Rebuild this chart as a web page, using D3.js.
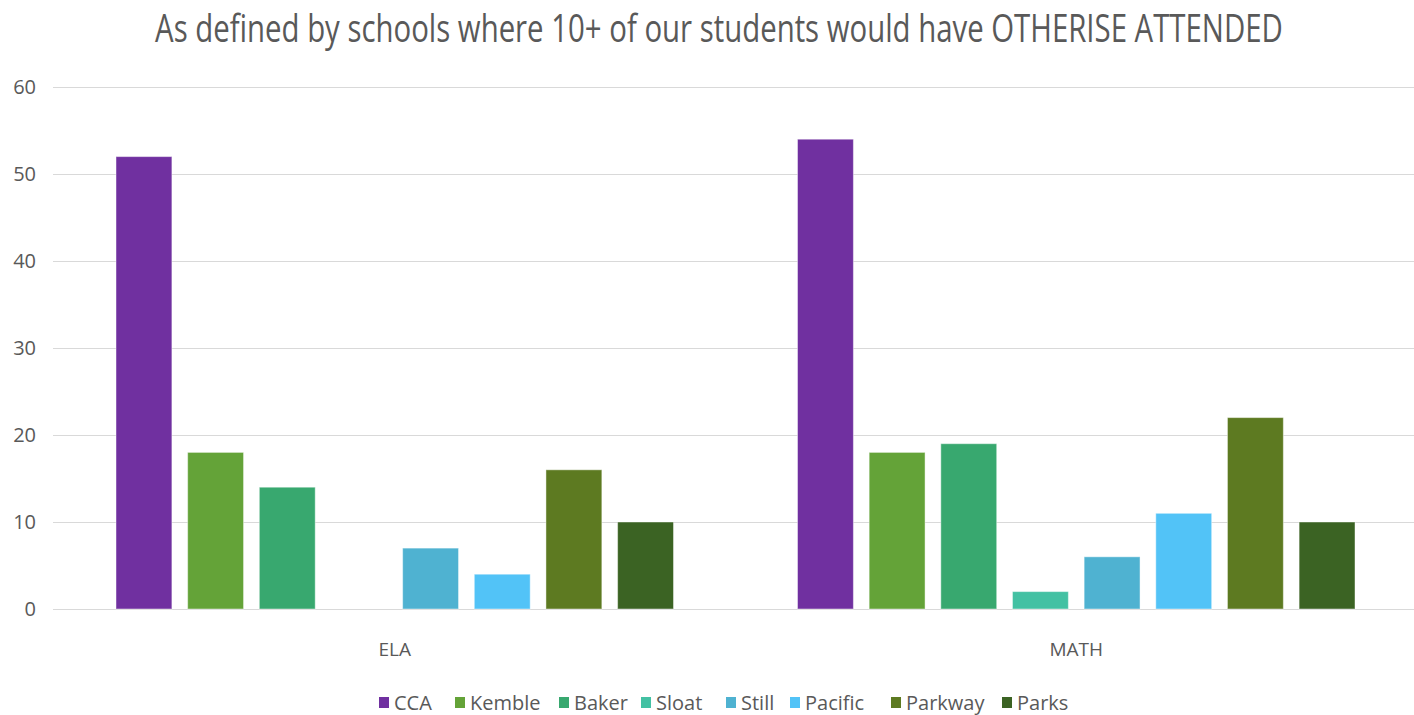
<!DOCTYPE html>
<html><head><meta charset="utf-8">
<script src="https://cdn.jsdelivr.net/npm/d3@7"></script>
<style>body{margin:0;background:#fff;} svg{display:block;}</style>
</head><body>
<svg id="c" width="1414" height="715"></svg>
<script>
const title = "As defined by schools where 10+ of our students would have OTHERISE ATTENDED";
const categories = ["ELA", "MATH"];
const seriesNames = ["CCA", "Kemble", "Baker", "Sloat", "Still", "Pacific", "Parkway", "Parks"];
const seriesColors = ["#7030A0", "#64A338", "#38A86F", "#43C1A3", "#4FB2D1", "#52C3F7", "#5D7A21", "#3B6323"];
const elaValues = [52, 18, 14, 0, 7, 4, 16, 10];
const mathValues = [54, 18, 19, 2, 6, 11, 22, 10];
const yTicks = [0, 10, 20, 30, 40, 50, 60];

(function () {
const svg = d3.select("#c");
const font = "'Open Sans', 'Noto Sans', sans-serif";
const grey = "#595959";
const pLeft = 54, pRight = 1417, pTop = 87, pBottom = 609;

const y = d3.scaleLinear().domain([0, 60]).range([pBottom, pTop]);
const x0 = d3.scaleBand().domain(categories).range([pLeft, pRight]).padding(0);
const gOuter = 62;
const x1 = d3.scaleBand().domain(seriesNames)
  .range([gOuter, x0.bandwidth() - gOuter]).paddingInner(0.22).paddingOuter(0);

// title (horizontally condensed via scale transform to mimic the narrow original face)
const tg = svg.append("g");
const t = tg.append("text").attr("x", 0).attr("y", 0).attr("text-anchor", "middle")
  .attr("font-family", "'Open Sans', sans-serif")
  .attr("font-size", 38).attr("fill", grey).text(title);
const natural = t.node().getComputedTextLength();
const sx = 1128 / natural;
tg.attr("transform", `translate(719,42) scale(${sx},1)`);

// grid
svg.append("g").selectAll("line").data(yTicks).join("line")
  .attr("x1", pLeft - 1).attr("x2", 1414)
  .attr("y1", d => Math.round(y(d)) + 0.5).attr("y2", d => Math.round(y(d)) + 0.5)
  .attr("stroke", "#d9d9d9").attr("stroke-width", 1);

// y axis labels
const yAxis = d3.axisLeft(y).tickValues(yTicks).tickSize(0).tickPadding(0);
const ya = svg.append("g").attr("transform", "translate(36,0)").call(yAxis);
ya.select(".domain").remove();
ya.selectAll("text").attr("font-family", font).attr("font-size", 20).attr("fill", grey);

// bars
const data = categories.map((c, i) => ({cat: c, vals: (i === 0 ? elaValues : mathValues)}));
const groups = svg.append("g").selectAll("g").data(data).join("g")
  .attr("transform", d => `translate(${x0(d.cat)},0)`);
groups.selectAll("rect").data(d => d.vals.map((v, i) => ({name: seriesNames[i], v, c: seriesColors[i]})))
  .join("rect")
  .attr("x", d => x1(d.name)).attr("width", x1.bandwidth())
  .attr("y", d => y(d.v)).attr("height", d => y(0) - y(d.v))
  .attr("fill", d => d.c)
  .attr("stroke", "#ffffff").attr("stroke-opacity", d => d.v > 0 ? 0.45 : 0).attr("stroke-width", 1);

// category labels
const xAxis = d3.axisBottom(x0).tickSize(0).tickPadding(0);
const xa = svg.append("g").attr("transform", `translate(0,${pBottom + 47})`).call(xAxis);
xa.select(".domain").remove();
xa.selectAll("text").attr("font-family", font).attr("font-size", 19).attr("fill", grey).attr("dy", 0);

// legend
const legendX = [379, 455, 559, 641, 726, 790, 891, 1002];
const lg = svg.append("g").selectAll("g").data(seriesNames).join("g")
  .attr("transform", (d, i) => `translate(${legendX[i]},703)`);
lg.append("rect").attr("x", 0).attr("y", -6).attr("width", 10).attr("height", 11)
  .attr("fill", (d, i) => seriesColors[i]);
lg.append("text").attr("x", 15).attr("y", 7).attr("font-family", font).attr("font-size", 20)
  .attr("fill", grey).text(d => d);
})();
</script>
</body></html>
